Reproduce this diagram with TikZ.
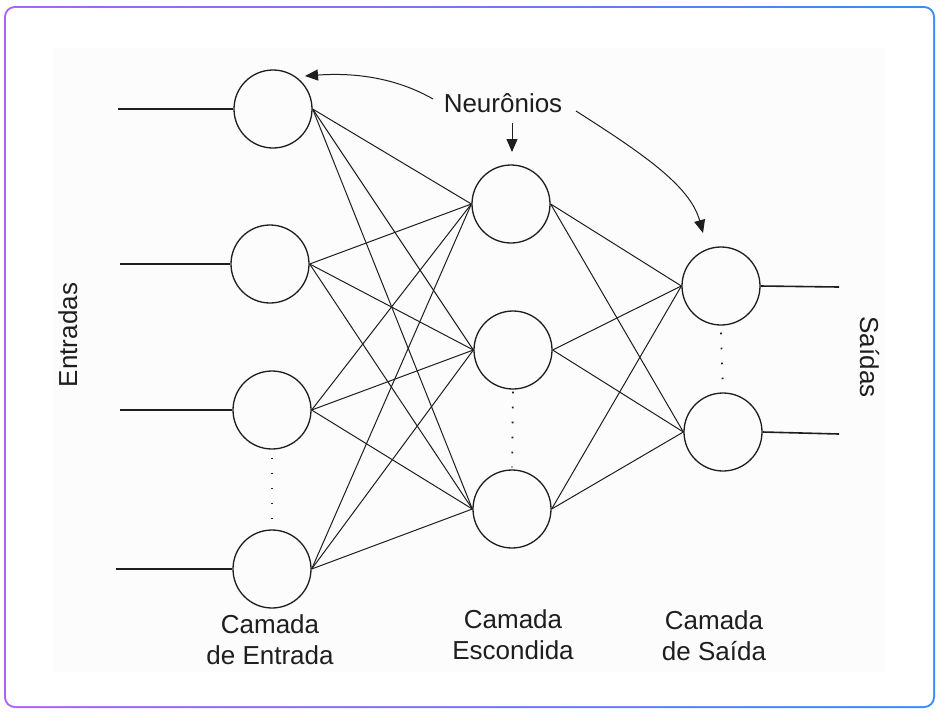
\documentclass[tikz,border=0pt]{standalone}
\usepackage{fontspec}
\setmainfont{Liberation Sans}
\usetikzlibrary{arrows.meta}
\definecolor{framepurple}{HTML}{B060F8}
\definecolor{frameblue}{HTML}{3B8CF6}
\definecolor{inkc}{HTML}{1E1E1E}
\definecolor{paper}{HTML}{FCFCFC}
\begin{document}
\begin{tikzpicture}[x=1pt,y=-1pt,
  neuron/.style={circle,draw=inkc,line width=1.3pt,minimum size=78pt,inner sep=0pt},
  wire/.style={draw=inkc,line width=1pt},
  ioline/.style={draw=inkc,line width=1.6pt},
  dotline/.style={draw=inkc,line width=1.8pt,dash pattern=on 1.6pt off 13.4pt},
  pointer/.style={draw=inkc,line width=1pt,-{Triangle[length=13pt,width=11pt]}},
  lbl/.style={font=\fontsize{26}{31}\selectfont,text=inkc,inner sep=0pt}]
\useasboundingbox (0,0) rectangle (939,713);
% frame
\shade[left color=framepurple,right color=frameblue,rounded corners=11pt] (4,6) rectangle (935,708);
\fill[white,rounded corners=9pt] (6,8) rectangle (933,706);
\fill[paper] (53,48) rectangle (885,672);
% neurons
\node[neuron] (I1) at (273,109) {};
\node[neuron] (I2) at (270,264) {};
\node[neuron] (I3) at (272,410) {};
\node[neuron] (I4) at (272,569) {};
\node[neuron] (H1) at (511,204) {};
\node[neuron] (H2) at (513,350) {};
\node[neuron] (H3) at (512,509) {};
\node[neuron] (O1) at (721,286) {};
\node[neuron] (O2) at (723,432) {};
% input / output lines
\coordinate (x1) at (118,109);
\coordinate (x2) at (120,264);
\coordinate (x3) at (120,410);
\coordinate (x4) at (116,569);
\coordinate (y1) at (839,287);
\coordinate (y2) at (839,434);
\foreach \i in {1,2,3,4} \draw[ioline] (x\i) -- (I\i.west);
\draw[ioline] (O1.east) -- (y1);
\draw[ioline] (O2.east) -- (y2);
% connections
\foreach \i in {1,2,3,4}
  \foreach \j in {1,2,3}
    \draw[wire] (I\i.east) -- (H\j.west);
\foreach \j in {1,2,3}
  \foreach \k in {1,2}
    \draw[wire] (H\j.east) -- (O\k.west);
% dotted continuation
\draw[dotline] ([yshift=-8pt]I3.south) -- ([yshift=9pt]I4.north);
\draw[dotline] ([yshift=-2pt]H2.south) -- ([yshift=2pt]H3.north);
\draw[dotline] ([yshift=-7pt]O1.south) -- ([yshift=2pt]O2.north);
% labels
\node[lbl,anchor=base] (neu) at (503,112) {Neurônios};
\coordinate (p1) at (305,76);
\coordinate (p2) at (512,152);
\coordinate (p3) at (703,233);
\draw[pointer] (433,99) .. controls (400,80) and (360,72) .. (p1);
\draw[pointer] (512,123) -- (p2);
\draw[pointer] (576,111) .. controls (640,152) and (690,185) .. (p3);
\node[lbl,anchor=base,rotate=90] (ent) at (77,335) {Entradas};
\node[lbl,anchor=base,rotate=-90] (sai) at (860,357) {Saídas};
\node[lbl,anchor=base,align=center] (cE) at (270,664) {Camada\\de Entrada};
\node[lbl,anchor=base,align=center] (cH) at (513,659) {Camada\\Escondida};
\node[lbl,anchor=base,align=center] (cO) at (714,660) {Camada\\de Saída};
\end{tikzpicture}
\end{document}
